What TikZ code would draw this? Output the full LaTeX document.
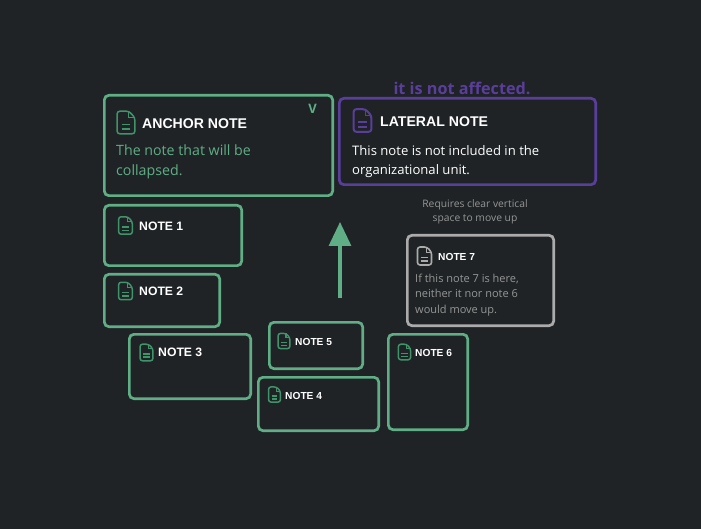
\documentclass[tikz,border=0pt]{standalone}
\usepackage{fontspec}
\usepackage{xcolor}
\setmainfont{Open Sans}
\newfontfamily\headfont{Liberation Sans}
\usetikzlibrary{arrows.meta}
\definecolor{pagebg}{HTML}{1F2326}
\definecolor{notegreen}{HTML}{5FAE85}
\definecolor{icongreen}{HTML}{3F9469}
\definecolor{lateralpurple}{HTML}{5A3E9B}
\definecolor{lockgray}{HTML}{ABABAB}
\definecolor{bodygray}{HTML}{969696}
\tikzset{
  notebox/.style={draw=#1,line width=2.7pt,rounded corners=4.5pt,inner sep=0pt},
  heading/.style={anchor=west,inner sep=0pt,text=white,font=\headfont\bfseries\fontsize{#1}{#1}\selectfont},
  bodytext/.style={anchor=west,inner sep=0pt,align=left},
  pics/noteicon/.style args={#1/#2}{code={
    \draw[#1,line width=#2pt,rounded corners=2.5pt,line join=round]
      (-9,-11.5) -- (3,-11.5) -- (9,-5) -- (9,11.5) -- (-9,11.5) -- cycle;
    \draw[#1,line width=#2pt*0.7] (3,-11.5) -- (3,-5) -- (9,-5);
    \draw[#1,line width=#2pt] (-4.5,2) -- (4.5,2) (-4.5,6.5) -- (4.5,6.5);
  }}
}
\begin{document}
\begin{tikzpicture}[x=1pt,y=-1pt]
    \fill[pagebg] (0,0) rectangle (701,529);
    \useasboundingbox (0,0) rectangle (701,529);

    % the green notes
    \foreach \name/\l/\t/\r/\b in {anchor/103/94/334/197,note1/103/204/243/267,note2/103/273/221/328,
        note3/128/333/252/400,note5/268/321/364/370,note4/257/376/380/432,note6/387/333/469/431}{
      \node[notebox=notegreen,minimum width={(\r-\l-2.7)*1pt},minimum height={(\b-\t-2.7)*1pt}]
        (\name) at ({(\l+\r)/2},{(\t+\b)/2}) {};
    }
    \node[notebox=lateralpurple,minimum width=256.3pt,minimum height=86.3pt] (lateral) at (467.5,141.5) {};
    \node[notebox=lockgray,minimum width=146.3pt,minimum height=90.3pt] (note7) at (480.5,280.5) {};

    % icons
    \foreach \x/\y/\s in {126/122.5/0.98,125.5/225.5/0.76,125.5/291/0.76,146.5/352.5/0.72,
        284/341/0.66,274.5/394.5/0.66,404.5/352/0.68}{
      \pic[scale=\s] at (\x,\y) {noteicon=icongreen/1.5};
    }
    \pic[scale=0.98] at (362.5,120.5) {noteicon=lateralpurple/2};
    \pic[scale=0.78] at (424.5,256) {noteicon=lockgray/1.6};

    % headings
    \node[heading=14.1] (anchorhead) at (142,123.7) {ANCHOR NOTE};
    \node[heading=14.1] (lateralhead) at (380,121.7) {LATERAL NOTE};
    \node[heading=12.2] (head1) at (139,226.5) {NOTE 1};
    \node[heading=12.2] (head2) at (139,291.7) {NOTE 2};
    \node[heading=12.2] (head3) at (158,352.7) {NOTE 3};
    \node[heading=10.2] (head5) at (295,341.7) {NOTE 5};
    \node[heading=10.2] (head4) at (285,395.7) {NOTE 4};
    \node[heading=10.2] (head6) at (415,352.7) {NOTE 6};
    \node[heading=10.2] (head7) at (438,256.7) {NOTE 7};

    % body text
    \node[bodytext,text=notegreen,font=\fontsize{14.2}{20}\selectfont] (anchorbody) at (116,161.5) {The note that will be\\collapsed.};
    \node[bodytext,text=white,font=\fontsize{13.1}{19}\selectfont] (lateralbody) at (352,161.5) {This note is not included in the\\organizational unit.};
    \node[bodytext,text=bodygray,font=\fontsize{11}{15.5}\selectfont] (note7body) at (415,295) {If this note 7 is here,\\neither it nor note 6\\would move up.};
    \node[text=bodygray,inner sep=0pt,align=center,font=\fontsize{10.3}{14}\selectfont] (moveup) at (475,211.5) {Requires clear vertical\\space to move up};
    \node[text=lateralpurple,inner sep=0pt,font=\bfseries\fontsize{16.2}{16}\selectfont] (unaffected) at (462,88) {it is not affected.};
    \node[text=notegreen,inner sep=0pt,font=\bfseries\fontsize{13}{13}\selectfont] (chevron) at (312.5,108.5) {V};

    % arrow
    \coordinate (arrowtail) at (340,298);
    \coordinate (arrowtip) at (340,222);
    \draw[notegreen,line width=3.2pt,-{Triangle[length=24pt,width=22pt]}] (arrowtail) -- (arrowtip);
\end{tikzpicture}
\end{document}
